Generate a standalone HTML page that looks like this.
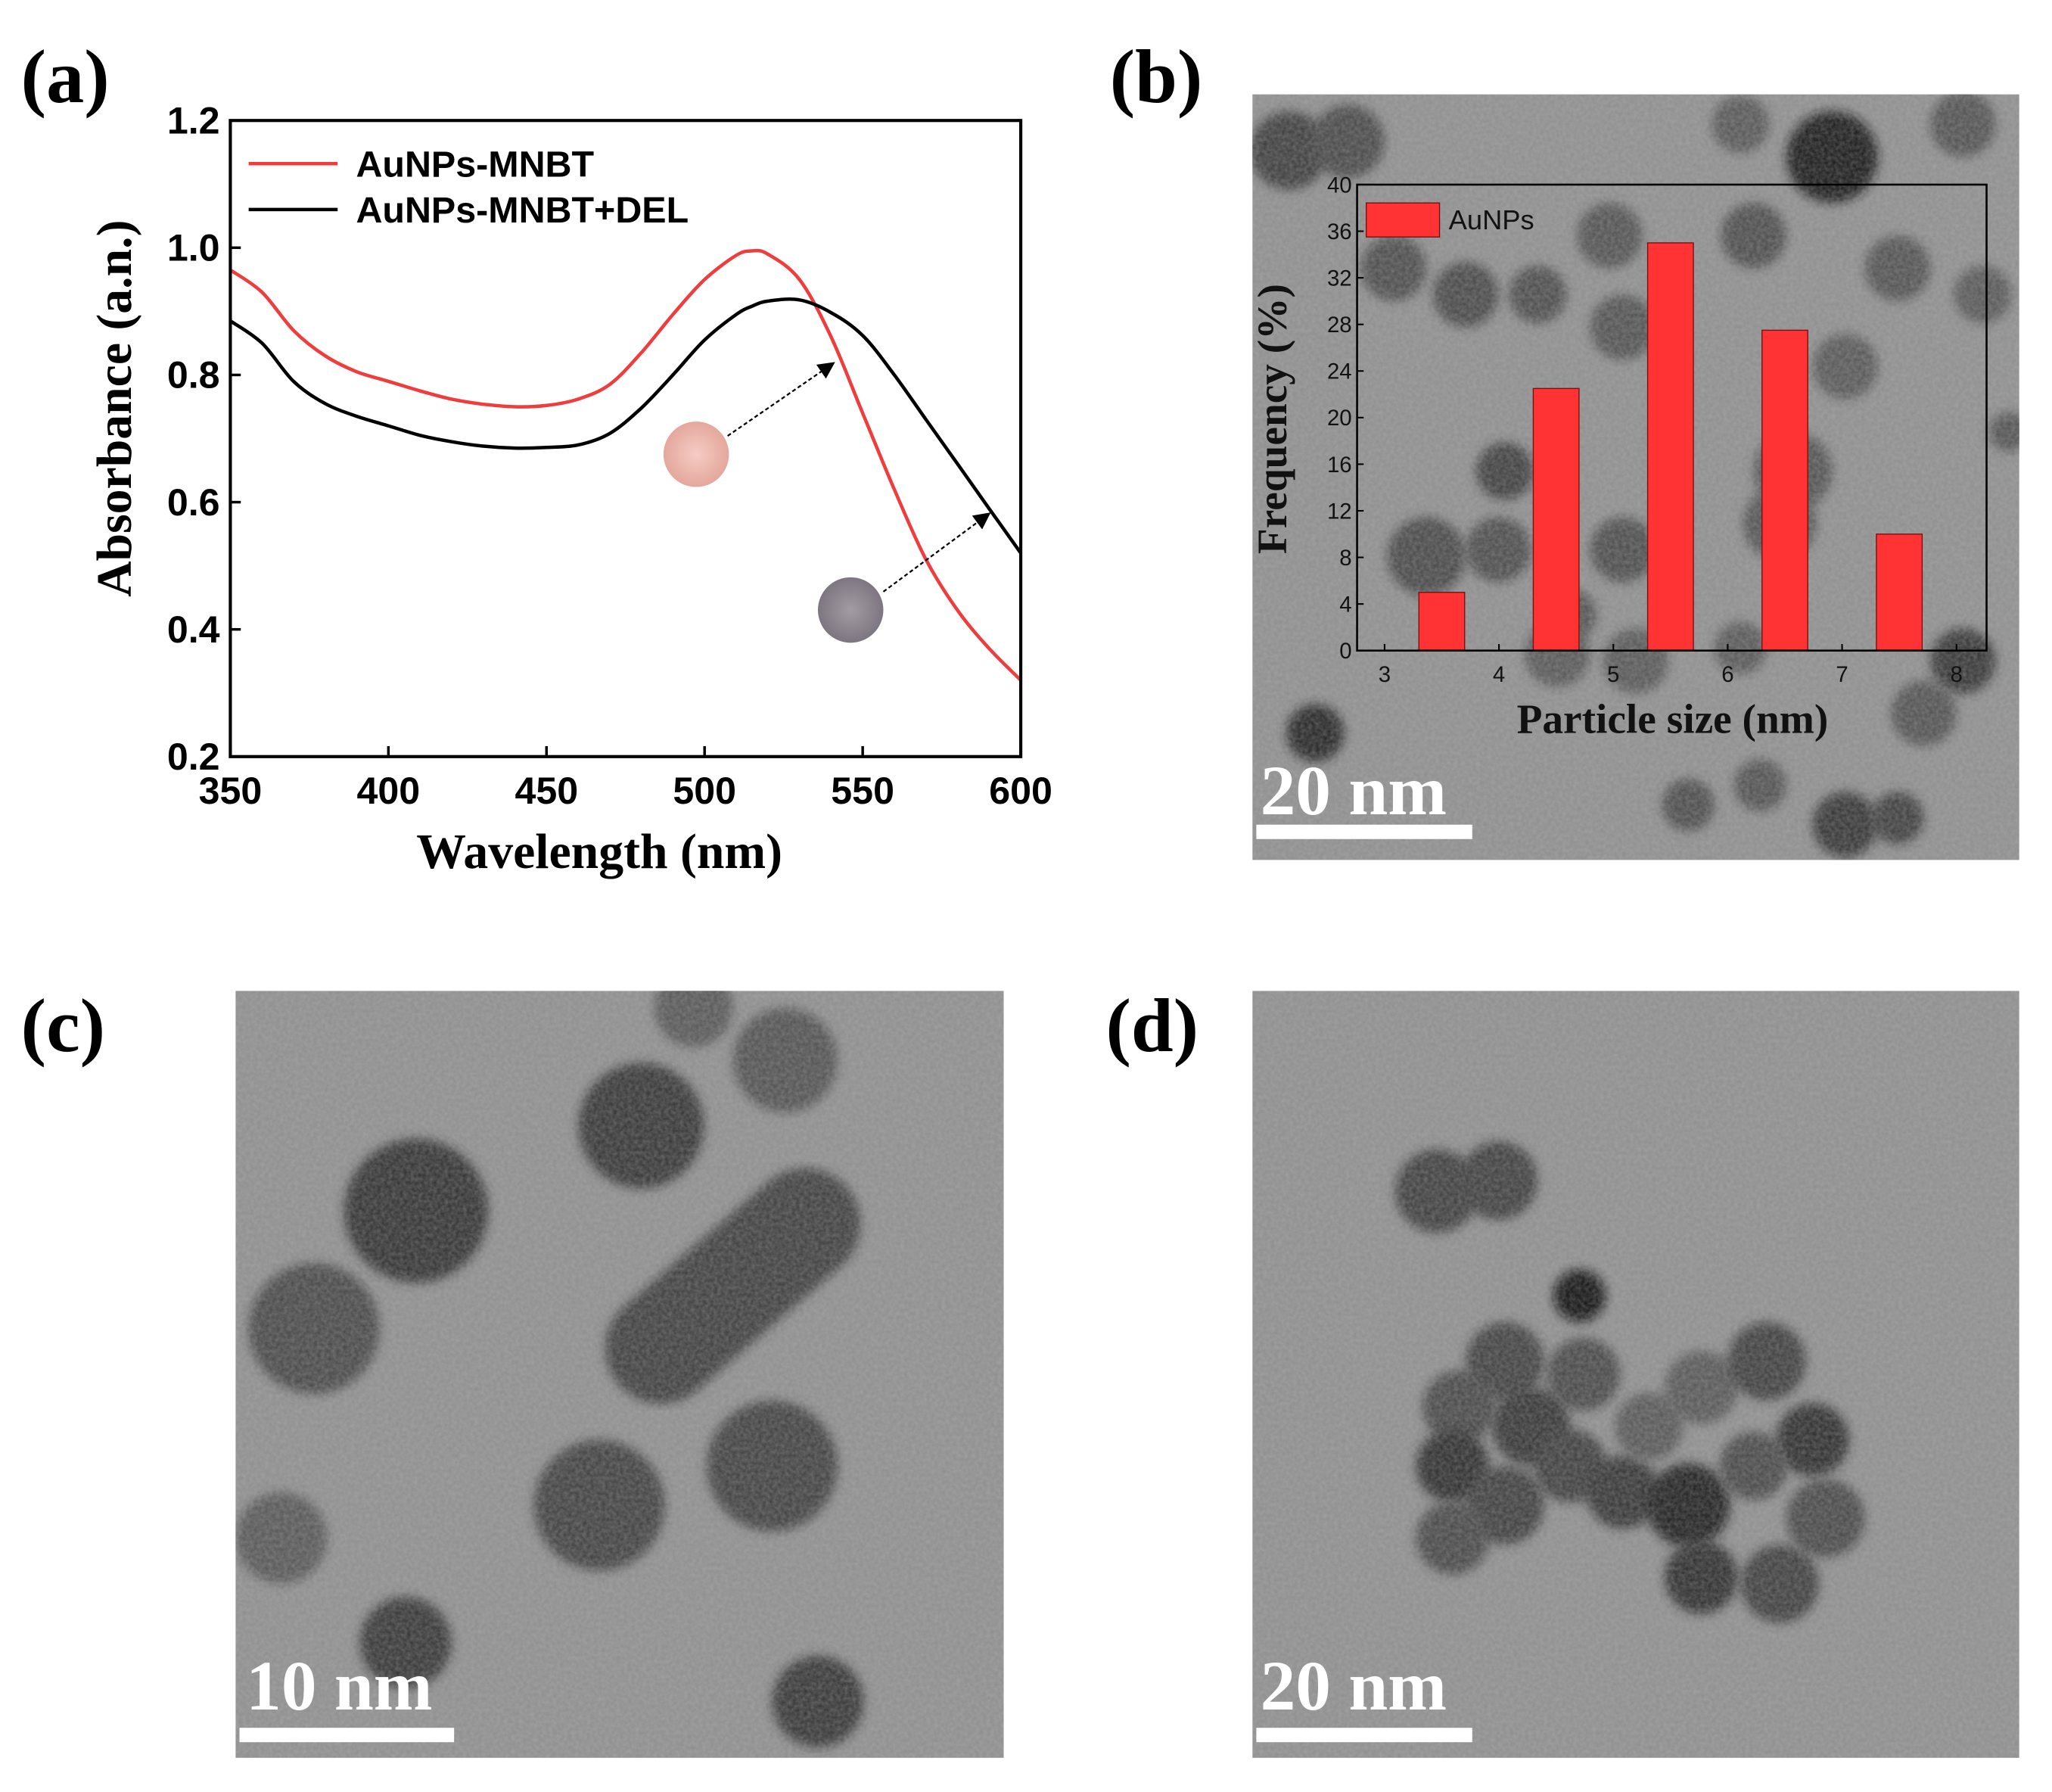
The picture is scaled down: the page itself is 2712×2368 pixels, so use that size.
<!DOCTYPE html>
<html><head><meta charset="utf-8"><style>
html,body{margin:0;padding:0;background:#fff}
svg{display:block}
</style></head><body>
<svg id="fig" width="2712" height="2368" viewBox="0 0 1568 1369" xmlns="http://www.w3.org/2000/svg">
<defs>
<filter id="blur" x="-50%" y="-50%" width="200%" height="200%"><feGaussianBlur stdDeviation="4"/></filter>
<filter id="grain" x="0" y="0" width="100%" height="100%">
<feTurbulence type="fractalNoise" baseFrequency="0.35" numOctaves="2" seed="3"/>
<feColorMatrix type="matrix" values="0 0 0 0 0.5  0 0 0 0 0.5  0 0 0 0 0.5  0 0 0 0.45 0"/>
</filter>
<radialGradient id="pink"><stop offset="0" stop-color="#f4cdc5"/><stop offset="1" stop-color="#e4a79c"/></radialGradient>
<radialGradient id="grey"><stop offset="0" stop-color="#a49ca4"/><stop offset="1" stop-color="#7d7680"/></radialGradient>
<marker id="arr" markerWidth="10" markerHeight="10" refX="8" refY="5" orient="auto"><path d="M0,0 L10,5 L0,10 z" fill="#000"/></marker>
</defs>
<g id="panelA"></g>
<g id="panelB"></g>
<g id="panelC"></g>
<g id="panelD"></g>
</svg>
<script>
// ---- Panel (a) data ----
const wavelengths = [350,360,370,380,390,400,410,420,430,440,450,460,470,480,490,500,510,515,520,530,540,550,560,570,580,590,600];
const redAbs   = [0.965,0.93,0.87,0.83,0.805,0.79,0.775,0.762,0.754,0.75,0.752,0.762,0.785,0.835,0.895,0.95,0.988,0.995,0.99,0.95,0.86,0.74,0.62,0.51,0.43,0.37,0.32];
const blackAbs = [0.885,0.85,0.79,0.755,0.735,0.72,0.705,0.695,0.688,0.685,0.686,0.69,0.708,0.748,0.8,0.855,0.895,0.908,0.916,0.918,0.898,0.862,0.8,0.73,0.66,0.59,0.52];
const xTicksA = [350,400,450,500,550,600];
const yTicksA = [0.2,0.4,0.6,0.8,1.0,1.2];
// ---- Panel (b) histogram data ----
const sizeBins = [3.5,4.5,5.5,6.5,7.5];
const freqValues = [5,22.5,35,27.5,10];
const xTicksB = [3,4,5,6,7,8];
const yTicksB = [0,4,8,12,16,20,24,28,32,36,40];

const NS='http://www.w3.org/2000/svg';
function mk(parent,tag,attrs,text){const e=document.createElementNS(NS,tag);for(const k in attrs)e.setAttribute(k,attrs[k]);if(text!==undefined)e.textContent=text;parent.appendChild(e);return e;}

// ===== Panel A =====
const A=document.getElementById('panelA');
const ax={l:176,r:780,t:92,b:578};
const xA=v=>ax.l+(v-350)/(600-350)*(ax.r-ax.l);
const yA=v=>ax.b-(v-0.2)/(1.2-0.2)*(ax.b-ax.t);
let t=mk(A,'text',{x:16,y:78,'font-family':'Liberation Serif, serif','font-weight':'bold','font-size':58},'(a)');

function line(vals,color,name){
 const pts=wavelengths.map((w,i)=>[xA(w),yA(vals[i])]);
 let d='M'+pts[0][0].toFixed(1)+','+pts[0][1].toFixed(1);
 for(let i=0;i<pts.length-1;i++){const p0=pts[Math.max(0,i-1)],p1=pts[i],p2=pts[i+1],p3=pts[Math.min(pts.length-1,i+2)];
  const c1=[p1[0]+(p2[0]-p0[0])/6,p1[1]+(p2[1]-p0[1])/6],c2=[p2[0]-(p3[0]-p1[0])/6,p2[1]-(p3[1]-p1[1])/6];
  d+='C'+c1[0].toFixed(1)+','+c1[1].toFixed(1)+' '+c2[0].toFixed(1)+','+c2[1].toFixed(1)+' '+p2[0].toFixed(1)+','+p2[1].toFixed(1);}
 const p=mk(A,'path',{d:d,fill:'none',stroke:color,'stroke-width':2.6,'stroke-linejoin':'round'});
 }
line(redAbs,'#f03c3c','series-aunps-mnbt');
line(blackAbs,'#000','series-aunps-mnbt-del');
let fr=mk(A,'rect',{x:ax.l,y:ax.t,width:ax.r-ax.l,height:ax.b-ax.t,fill:'none',stroke:'#000','stroke-width':2.4});

xTicksA.forEach(v=>{const x=xA(v);mk(A,'line',{x1:x,x2:x,y1:ax.b,y2:ax.b-8,stroke:'#000','stroke-width':2});
 const l=mk(A,'text',{x:x,y:ax.b+36,'text-anchor':'middle','font-family':'Liberation Sans, sans-serif','font-weight':'bold','font-size':29},String(v));
 });
yTicksA.forEach(v=>{const y=yA(v);mk(A,'line',{x1:ax.l,x2:ax.l+8,y1:y,y2:y,stroke:'#000','stroke-width':2});
 const l=mk(A,'text',{x:ax.l-8,y:y+10,'text-anchor':'end','font-family':'Liberation Sans, sans-serif','font-weight':'bold','font-size':29},v.toFixed(1));
 });
t=mk(A,'text',{x:458,y:663,'text-anchor':'middle','font-family':'Liberation Serif, serif','font-weight':'bold','font-size':38},'Wavelength (nm)');

t=mk(A,'text',{x:0,y:0,transform:'translate(100,312) rotate(-90)','text-anchor':'middle','font-family':'Liberation Serif, serif','font-weight':'bold','font-size':38},'Absorbance (a.n.)');

[['#f03c3c','AuNPs-MNBT',125],['#000','AuNPs-MNBT+DEL',160]].forEach(([c,s,y],i)=>{
 const g=mk(A,'g',{});
 mk(g,'line',{x1:190,x2:258,y1:y,y2:y,stroke:c,'stroke-width':2.6});
 mk(g,'text',{x:272,y:y+10,'font-family':'Liberation Sans, sans-serif','font-weight':'bold','font-size':28},s);});
let c1=mk(A,'circle',{cx:532,cy:347,r:25,fill:'url(#pink)'});
let c2=mk(A,'circle',{cx:650,cy:466,r:25,fill:'url(#grey)'});
mk(A,'line',{x1:556,y1:333,x2:636,y2:278,stroke:'#000','stroke-width':1.3,'stroke-dasharray':'3,2','marker-end':'url(#arr)'});
mk(A,'line',{x1:675,y1:452,x2:755,y2:393,stroke:'#000','stroke-width':1.3,'stroke-dasharray':'3,2','marker-end':'url(#arr)'});

// ===== TEM helper =====
function tem(parent,x,y,w,h,parts,name){
 const g=mk(parent,'g',{});
 const cid='clip'+name;const cp=mk(g,'clipPath',{id:cid});mk(cp,'rect',{x:x,y:y,width:w,height:h});
 const inner=mk(g,'g',{'clip-path':'url(#'+cid+')'});
 mk(inner,'rect',{x:x,y:y,width:w,height:h,fill:'#8e8e8e'});
 parts.forEach(p=>{if(p.length===4)mk(inner,'circle',{cx:p[0],cy:p[1],r:p[2],fill:p[3],filter:'url(#blur)'});
   else mk(inner,'path',{d:p[0],stroke:p[1],'stroke-width':p[2],'stroke-linecap':'round',fill:'none',filter:'url(#blur)'});});
 mk(inner,'rect',{x:x,y:y,width:w,height:h,filter:'url(#grain)',opacity:0.9});
 return g;}
function scale(parent,x,y,x1,x2,yb,label){
 const g=mk(parent,'g',{});
 mk(g,'text',{x:x,y:y,'font-family':'Liberation Serif, serif','font-weight':'bold','font-size':54,fill:'#fff'},label);
 mk(g,'rect',{x:x1,y:yb,width:x2-x1,height:11,fill:'#fff'});}

// ===== Panel B =====
const B=document.getElementById('panelB');
t=mk(B,'text',{x:848,y:78,'font-family':'Liberation Serif, serif','font-weight':'bold','font-size':58},'(b)');

const bParts=[[985,115,30,'#3a3a3a'],[1030,108,28,'#444'],[1400,120,35,'#151515'],[1330,95,22,'#555'],[1500,95,25,'#505050'],[1065,205,25,'#4a4a4a'],[1120,225,25,'#444'],[1175,225,22,'#4a4a4a'],[1230,180,25,'#505050'],[1240,250,25,'#505050'],[1340,180,25,'#4a4a4a'],[1410,280,25,'#555'],[1450,205,25,'#505050'],[1515,225,22,'#555'],[1150,360,22,'#3a3a3a'],[1090,425,30,'#444'],[1145,420,25,'#4a4a4a'],[1240,420,25,'#4a4a4a'],[1370,360,30,'#505050'],[1360,400,28,'#505050'],[1005,560,22,'#222'],[1290,615,20,'#4a4a4a'],[1345,600,20,'#505050'],[1410,630,25,'#333'],[1450,625,20,'#3a3a3a'],[1500,505,25,'#333'],[1470,545,25,'#505050'],[1200,470,20,'#505050'],[1535,330,15,'#505050'],[1190,500,25,'#555'],[1250,505,25,'#555'],[1330,495,20,'#555']];
tem(B,957,72,586,585,bParts,'tem-image-b');
scale(B,963,622,960,1125,630,'20 nm');
const ib={l:1037,r:1518,t:141,b:497};
const xB=v=>ib.l+21+(v-3)/(8-3)*(1495-1058);
const yB=v=>ib.b-v/40*(ib.b-ib.t);
sizeBins.forEach((s,i)=>{const w=(xB(3.4)-xB(3));const r=mk(B,'rect',{x:xB(s)-w/2,y:yB(freqValues[i]),width:w,height:yB(0)-yB(freqValues[i]),fill:'#ff3333',stroke:'#7a1010','stroke-width':0.8});
 });
fr=mk(B,'rect',{x:ib.l,y:ib.t,width:ib.r-ib.l,height:ib.b-ib.t,fill:'none',stroke:'#000','stroke-width':1.5});

xTicksB.forEach(v=>{const x=xB(v);mk(B,'line',{x1:x,x2:x,y1:ib.b,y2:ib.b-5,stroke:'#000','stroke-width':1.2});
 const l=mk(B,'text',{x:x,y:ib.b+24,'text-anchor':'middle','font-family':'Liberation Sans, sans-serif','font-size':17,fill:'#111'},String(v));
 });
yTicksB.forEach(v=>{const y=yB(v);mk(B,'line',{x1:ib.l,x2:ib.l+5,y1:y,y2:y,stroke:'#000','stroke-width':1.2});
 const l=mk(B,'text',{x:ib.l-4,y:y+6,'text-anchor':'end','font-family':'Liberation Sans, sans-serif','font-size':17,fill:'#111'},String(v));
 });
t=mk(B,'text',{x:1278,y:560,'text-anchor':'middle','font-family':'Liberation Serif, serif','font-weight':'bold','font-size':32,fill:'#111'},'Particle size (nm)');

t=mk(B,'text',{x:0,y:0,transform:'translate(983,320) rotate(-90)','text-anchor':'middle','font-family':'Liberation Serif, serif','font-weight':'bold','font-size':32,fill:'#111'},'Frequency (%)');

let lg=mk(B,'g',{});
mk(lg,'rect',{x:1044,y:155,width:56,height:26,fill:'#ff3333',stroke:'#7a1010','stroke-width':0.8});
mk(lg,'text',{x:1107,y:175,'font-family':'Liberation Sans, sans-serif','font-size':21,fill:'#111'},'AuNPs');

// ===== Panel C =====
const C=document.getElementById('panelC');
t=mk(C,'text',{x:16,y:803,'font-family':'Liberation Serif, serif','font-weight':'bold','font-size':58},'(c)');

const cParts=[[318,925,55,'#2e2e2e'],[240,1015,50,'#444'],[490,860,48,'#333'],[600,810,40,'#505050'],['M505,1030 L615,935','#3a3a3a',85],[458,1150,50,'#3e3e3e'],[590,1120,50,'#3e3e3e'],[215,1175,35,'#555'],[310,1255,35,'#333'],[625,1300,35,'#333'],[530,770,30,'#555']];
tem(C,180,757,587,586,cParts,'tem-image-c');
scale(C,188,1306,183,347,1320,'10 nm');

// ===== Panel D =====
const D=document.getElementById('panelD');
t=mk(D,'text',{x:845,y:803,'font-family':'Liberation Serif, serif','font-weight':'bold','font-size':58},'(d)');

const dParts=[[1098,910,32,'#3a3a3a'],[1145,902,30,'#3a3a3a'],[1207,990,20,'#111'],[1150,1040,30,'#3e3e3e'],[1210,1050,28,'#444'],[1115,1075,28,'#444'],[1170,1090,30,'#333'],[1110,1120,28,'#2a2a2a'],[1150,1150,30,'#3a3a3a'],[1110,1175,28,'#444'],[1200,1120,28,'#3a3a3a'],[1240,1140,28,'#333'],[1290,1150,32,'#1a1a1a'],[1300,1060,28,'#555'],[1350,1040,30,'#3a3a3a'],[1385,1100,28,'#2a2a2a'],[1395,1160,30,'#444'],[1300,1205,28,'#2a2a2a'],[1360,1210,30,'#3a3a3a'],[1260,1090,26,'#555'],[1340,1120,26,'#444']];
tem(D,957,757,586,586,dParts,'tem-image-d');
scale(D,963,1306,960,1125,1320,'20 nm');
</script>
</body></html>
